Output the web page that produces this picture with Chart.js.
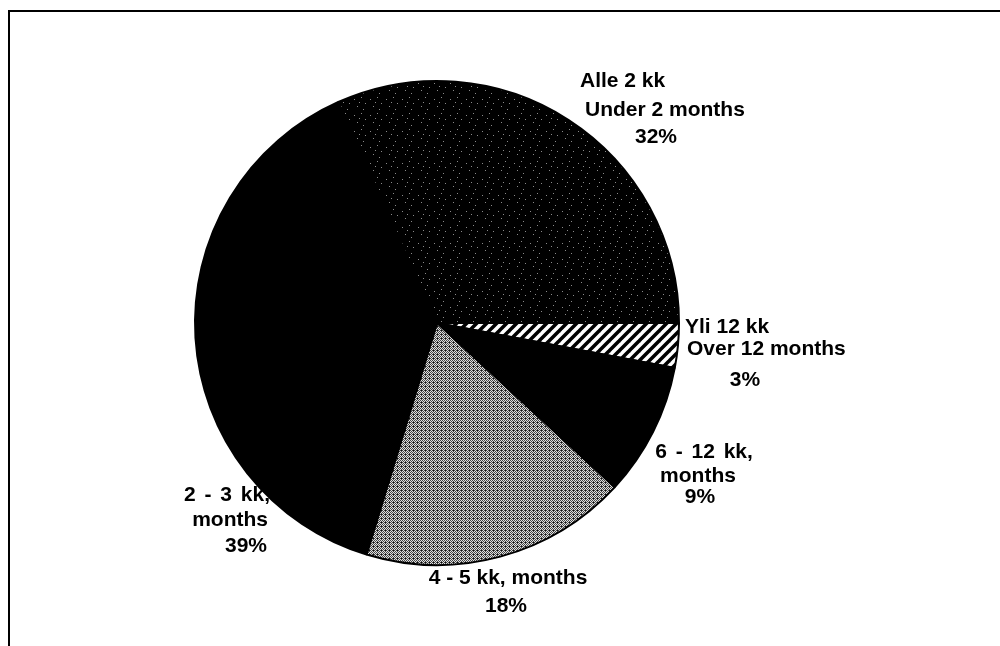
<!DOCTYPE html>
<html>
<head>
<meta charset="utf-8">
<title>Kesto</title>
<script src="https://cdn.jsdelivr.net/npm/chart.js@4/dist/chart.umd.min.js"></script>
<style>
    html, body { margin: 0; padding: 0; background: #fff; }
    .wrap { position: relative; width: 1000px; height: 646px; overflow: hidden; }
    .frame {
        position: absolute; left: 8px; top: 10px; width: 1100px; height: 700px;
        border-left: 2px solid #000; border-top: 2px solid #000;
    }
    canvas { position: absolute; left: 0; top: 0; }
</style>
</head>
<body>
<div class="wrap">
    <div class="frame"></div>
    <canvas id="pieChart" width="1000" height="646"></canvas>
</div>
<script>
// Slices clockwise from 3 o'clock
const finnishLabels = ['Yli 12 kk', '6 - 12 kk,', '4 - 5 kk,', '2 - 3 kk,', 'Alle 2 kk'];
const englishLabels = ['Over 12 months', 'months', 'months', 'months', 'Under 2 months'];
const shares = [3, 9, 18, 39, 32];

function makePattern(size, paint) {
    const c = document.createElement('canvas');
    c.width = size;
    c.height = size;
    const g = c.getContext('2d');
    paint(g, size);
    return g.createPattern(c, 'repeat');
}

// Diagonal hatch, white ground
const hatch = makePattern(10, (g, s) => {
    g.fillStyle = '#fff';
    g.fillRect(0, 0, s, s);
    g.strokeStyle = '#000';
    g.lineWidth = 3.5;
    [-s, 0, s].forEach(ox => {
        g.beginPath();
        g.moveTo(ox - 1, s + 1);
        g.lineTo(ox + s + 1, -1);
        g.stroke();
    });
});

// Medium grey stipple
const greyDots = makePattern(4, (g, s) => {
    for (let y = 0; y < s; y++) {
        for (let x = 0; x < s; x++) {
            g.fillStyle = (x + y) % 2 ? '#e0e0e0' : '#444';
            g.fillRect(x, y, 1, 1);
        }
    }
    g.fillStyle = '#111';
    g.fillRect(1, 2, 1, 1);
});

// Black with sparse light specks
const darkSpecks = makePattern(16, (g, s) => {
    g.fillStyle = '#000';
    g.fillRect(0, 0, s, s);
    g.fillStyle = '#8a8a8a';
    [[2, 3], [9, 1], [13, 7], [5, 10], [11, 13], [7, 6]].forEach(([x, y]) => {
        g.fillRect(x, y, 1, 1);
    });
});

const sliceFills = [hatch, '#000', greyDots, '#000', darkSpecks];

// Text placement for each slice label (one entry per line)
const labelLayout = [
    [{ x: 685, y: 327, a: 'left' }, { x: 687, y: 349, a: 'left' }, { x: 745, y: 380, a: 'center' }],
    [{ x: 704, y: 452, a: 'center' }, { x: 698, y: 476, a: 'center' }, { x: 700, y: 497, a: 'center' }],
    [{ x: 508, y: 578, a: 'center' }, { x: 506, y: 606, a: 'center' }],
    [{ x: 270, y: 495, a: 'right' }, { x: 268, y: 520, a: 'right' }, { x: 267, y: 546, a: 'right' }],
    [{ x: 580, y: 81, a: 'left' }, { x: 585, y: 110, a: 'left' }, { x: 656, y: 137, a: 'center' }]
];

function labelLines(i) {
    const pct = shares[i] + '%';
    if (labelLayout[i].length === 2) {
        return [finnishLabels[i] + ' ' + englishLabels[i], pct];
    }
    return [finnishLabels[i], englishLabels[i], pct];
}

const sliceLabels = {
    id: 'sliceLabels',
    afterDraw(chart) {
        const ctx = chart.ctx;
        ctx.save();
        ctx.fillStyle = '#000';
        ctx.font = 'bold 21px "Liberation Sans", Arial, sans-serif';
        ctx.textBaseline = 'middle';
        shares.forEach((v, i) => {
            labelLines(i).forEach((line, j) => {
                const pos = labelLayout[i][j];
                ctx.textAlign = pos.a;
                // stand-alone range lines are set a little looser
                ctx.wordSpacing = line.endsWith(',') ? '3px' : '0px';
                ctx.fillText(line, pos.x, pos.y);
            });
        });
        ctx.restore();
    }
};

document.addEventListener('DOMContentLoaded', function() {
    const el = document.getElementById('pieChart');
    new Chart(el, {
        type: 'pie',
        data: {
            labels: finnishLabels,
            datasets: [{
                data: shares,
                backgroundColor: sliceFills,
                borderColor: '#000',
                borderWidth: 2,
                hoverOffset: 0,
                offset: 0
            }]
        },
        options: {
            responsive: false,
            animation: false,
            rotation: 90,
            layout: { padding: { left: 194, right: 320, top: 80, bottom: 80 } },
            plugins: {
                legend: { display: false },
                tooltip: { enabled: false }
            }
        },
        plugins: [sliceLabels]
    });
});
</script>
</body>
</html>
